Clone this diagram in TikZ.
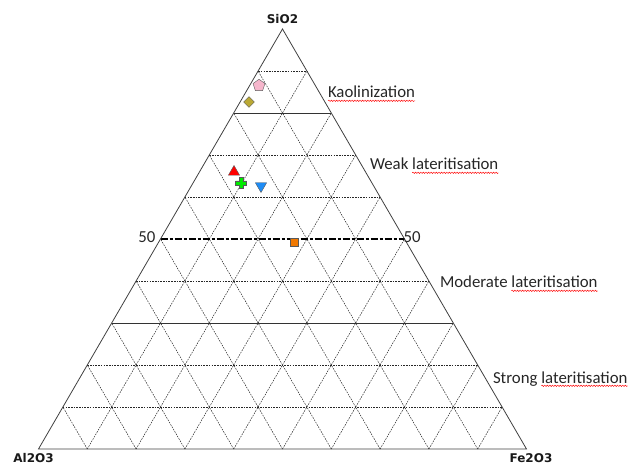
\documentclass[tikz,border=0pt]{standalone}
\usepackage{fontspec}
\setmainfont{Carlito}
\newfontfamily\vfont{DejaVu Sans}
\usetikzlibrary{shapes.geometric,calc,decorations.pathmorphing}
\definecolor{pinkm}{RGB}{246,182,204}
\definecolor{olivem}{RGB}{186,168,52}
\definecolor{bluem}{RGB}{30,140,245}
\definecolor{orangem}{RGB}{240,120,0}
\definecolor{greenm}{RGB}{0,235,0}
\begin{document}
\begin{tikzpicture}[x=1pt,y=-1pt,
  grid/.style={black!85,line width=0.5pt,dash pattern=on 1.6pt off 1.1pt},
  frame/.style={black!75,line width=0.8pt},
  solidgrid/.style={black!80,line width=0.6pt},
  fifty/.style={black,line width=1.2pt,dash pattern=on 7pt off 2pt on 3pt off 2pt},
  lbl/.style={font=\fontsize{16.8}{20}\selectfont,text=black!85,inner sep=0pt,outer sep=0pt},
  vlab/.style={font=\vfont\bfseries\fontsize{12}{14}\selectfont,text=black!90,inner sep=0pt},
  squig/.style={red,line width=0.45pt,decorate,decoration={snake,amplitude=0.7pt,segment length=2.6pt}},
  mk/.style={draw=black!65,line width=0.4pt,inner sep=0pt}]
\useasboundingbox (0,0) rectangle (643,465);
\coordinate (A) at (38.5,449);
\coordinate (B) at (526.5,449);
\coordinate (C) at (282.5,29);
% dashed grid
\foreach \k in {1,2,4,6,7,9}
  \draw[grid] ($(A)!\k/10!(C)$) -- ($(B)!\k/10!(C)$);
\foreach \k in {1,...,9}{
  \pgfmathsetmacro{\r}{1-\k/10}
  \draw[grid] ($(A)!\k/10!(B)$) -- ($(B)!\r!(C)$);
  \draw[grid] ($(A)!\k/10!(B)$) -- ($(A)!\k/10!(C)$);
}
% solid boundaries
\draw[solidgrid] ($(A)!0.8!(C)$) -- ($(B)!0.8!(C)$);
\draw[solidgrid] ($(A)!0.3!(C)$) -- ($(B)!0.3!(C)$);
% 50 line
\coordinate (L50) at ($(A)!0.5!(C)$);
\coordinate (R50) at ($(B)!0.5!(C)$);
\draw[fifty] (L50) -- (R50);
\node[lbl,anchor=east] (n50l) at ($(L50)+(-5,-2)$) {50};
\node[lbl,anchor=west] (n50r) at ($(R50)+(-1,-2)$) {50};
% outer triangle
\draw[frame] (A) -- (B) -- (C) -- cycle;
% vertex labels
\node[vlab,anchor=base] (si) at (282.5,23.5) {SiO2};
\node[vlab,anchor=base] (al) at (33.5,462.5) {Al2O3};
\node[vlab,anchor=base] (fe) at (531,462.5) {Fe2O3};
% zone labels
\node[lbl,anchor=base west] (kao) at (328,98) {Kaolinization};
\draw[squig] ($(kao.base west)+(0,2.8)$) -- ($(kao.base east)+(0,2.8)$);
\node[lbl,anchor=base west] (wk) at (370,170) {Weak};
\node[lbl,anchor=base west] (wl) at ($(wk.base east)+(3.8,0)$) {lateritisation};
\draw[squig] ($(wl.base west)+(0,2.8)$) -- ($(wl.base east)+(0,2.8)$);
\node[lbl,anchor=base west] (md) at (440,288) {Moderate};
\node[lbl,anchor=base west] (ml) at ($(md.base east)+(3.8,0)$) {lateritisation};
\draw[squig] ($(ml.base west)+(0,2.8)$) -- ($(ml.base east)+(0,2.8)$);
\node[lbl,anchor=base west] (st) at (493,383) {Strong};
\node[lbl,anchor=base west] (sl) at ($(st.base east)+(3.8,0)$) {lateritisation};
\draw[squig] ($(sl.base west)+(0,2.8)$) -- ($(sl.base east)+(0,2.8)$);
% markers
\node[mk,fill=pinkm,regular polygon,regular polygon sides=5,minimum size=12.5pt] (p1) at (259,85.5) {};
\node[mk,fill=olivem,diamond,minimum width=11pt,minimum height=11pt] (p2) at (249,102) {};
\node[mk,fill=red,regular polygon,regular polygon sides=3,minimum size=13pt] (p3) at (234,172) {};
\node[mk,fill=bluem,regular polygon,regular polygon sides=3,shape border rotate=180,minimum size=13pt] (p5) at (261,186) {};
\node[mk,fill=orangem,rectangle,minimum size=8.5pt] (p6) at (294,242) {};
\filldraw[fill=greenm,draw=black!65,line width=0.4pt,shift={(241,183)}]
  (-2,-5.5) -- (2,-5.5) -- (2,-2) -- (5.5,-2) -- (5.5,2) -- (2,2) -- (2,5.5)
  -- (-2,5.5) -- (-2,2) -- (-5.5,2) -- (-5.5,-2) -- (-2,-2) -- cycle;
\end{tikzpicture}
\end{document}
